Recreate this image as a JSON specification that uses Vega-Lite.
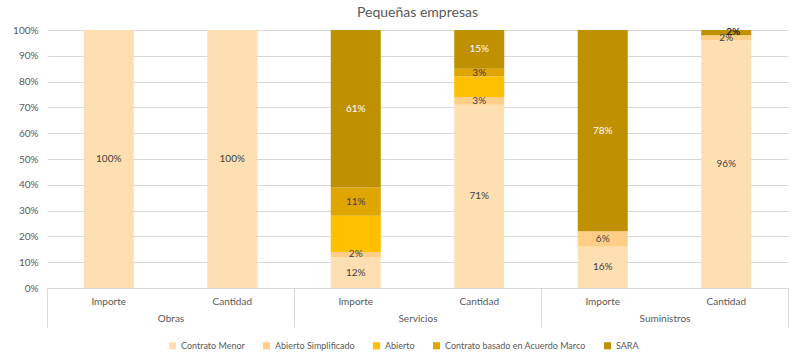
{
  "$schema": "https://vega.github.io/schema/vega-lite/v6.json",
  "width": 741,
  "height": 258,
  "autosize": {"type": "none"},
  "padding": {"left": 47, "top": 30, "right": 6, "bottom": 74},
  "background": "white",
  "config": {
    "font": "Lato",
    "view": {"stroke": null}
  },
  "title": {"text": "Pequeñas empresas", "fontSize": 14, "fontWeight": "normal", "color": "#595959", "offset": 5, "anchor": "middle"},
  "data": {"values": [
    {"grupo": "Obras", "medida": "Importe", "tipo": "Contrato Menor", "v": 1.00},
    {"grupo": "Obras", "medida": "Cantidad", "tipo": "Contrato Menor", "v": 1.00},
    {"grupo": "Servicios", "medida": "Importe", "tipo": "Contrato Menor", "v": 0.12},
    {"grupo": "Servicios", "medida": "Importe", "tipo": "Abierto Simplificado", "v": 0.02},
    {"grupo": "Servicios", "medida": "Importe", "tipo": "Abierto", "v": 0.14},
    {"grupo": "Servicios", "medida": "Importe", "tipo": "Contrato basado en Acuerdo Marco", "v": 0.11},
    {"grupo": "Servicios", "medida": "Importe", "tipo": "SARA", "v": 0.61},
    {"grupo": "Servicios", "medida": "Cantidad", "tipo": "Contrato Menor", "v": 0.71},
    {"grupo": "Servicios", "medida": "Cantidad", "tipo": "Abierto Simplificado", "v": 0.03},
    {"grupo": "Servicios", "medida": "Cantidad", "tipo": "Abierto", "v": 0.08},
    {"grupo": "Servicios", "medida": "Cantidad", "tipo": "Contrato basado en Acuerdo Marco", "v": 0.03},
    {"grupo": "Servicios", "medida": "Cantidad", "tipo": "SARA", "v": 0.15},
    {"grupo": "Suministros", "medida": "Importe", "tipo": "Contrato Menor", "v": 0.16},
    {"grupo": "Suministros", "medida": "Importe", "tipo": "Abierto Simplificado", "v": 0.06},
    {"grupo": "Suministros", "medida": "Importe", "tipo": "SARA", "v": 0.78},
    {"grupo": "Suministros", "medida": "Cantidad", "tipo": "Contrato Menor", "v": 0.96},
    {"grupo": "Suministros", "medida": "Cantidad", "tipo": "Abierto Simplificado", "v": 0.02},
    {"grupo": "Suministros", "medida": "Cantidad", "tipo": "SARA", "v": 0.02}
  ]},
  "transform": [
    {"calculate": "datum.grupo + '|' + datum.medida", "as": "key"},
    {"calculate": "indexof(['Contrato Menor','Abierto Simplificado','Abierto','Contrato basado en Acuerdo Marco','SARA'], datum.tipo)", "as": "k"},
    {"stack": "v", "groupby": ["key"], "sort": [{"field": "k", "order": "ascending"}], "as": ["v0", "v1"]},
    {"calculate": "(datum.v0 + datum.v1) / 2", "as": "mid"}
  ],
  "layer": [
    {
      "layer": [
        {
          "mark": {"type": "bar"},
          "encoding": {
            "x": {
              "field": "key", "type": "nominal", "sort": null,
              "scale": {"paddingInner": 0.595, "paddingOuter": 0.2975},
              "axis": {
                "orient": "bottom", "title": null, "labelAngle": 0, "ticks": false,
                "domainColor": "#d9d9d9", "labelColor": "#595959", "labelFontSize": 10,
                "labelPadding": 8,
                "labelExpr": "split(datum.label, '|')[1]"
              }
            },
            "y": {
              "field": "v0", "type": "quantitative",
              "scale": {"domain": [0, 1]},
              "axis": {
                "title": null, "format": ".0%", "values": [0, 0.1, 0.2, 0.3, 0.4, 0.5, 0.6, 0.7, 0.8, 0.9, 1.0],
                "domain": false, "ticks": false, "gridColor": "#d9d9d9",
                "labelColor": "#595959", "labelFontSize": 10, "labelPadding": 9
              }
            },
            "y2": {"field": "v1"},
            "color": {
              "field": "tipo", "type": "nominal",
              "scale": {
                "domain": ["Contrato Menor", "Abierto Simplificado", "Abierto", "Contrato basado en Acuerdo Marco", "SARA"],
                "range": ["#FEDFB2", "#FFCF88", "#FFC000", "#DFA600", "#BF9000"]
              },
              "legend": {
                "title": null, "orient": "none", "legendX": 121, "legendY": 311, "direction": "horizontal",
                "symbolType": "square", "symbolSize": 50, "symbolStrokeWidth": 0,
                "labelFontSize": 9, "labelColor": "#595959", "columnPadding": 17
              }
            }
          }
        },
        {
          "transform": [{"filter": "datum.v > 0 && datum.tipo != 'Abierto' && !(datum.tipo == 'SARA' && datum.v < 0.1)"}],
          "mark": {"type": "text", "fontSize": 10},
          "encoding": {
            "x": {"field": "key", "type": "nominal", "sort": null},
            "y": {
              "field": "mid", "type": "quantitative",
              "axis": {
                "title": null, "format": ".0%", "values": [0, 0.1, 0.2, 0.3, 0.4, 0.5, 0.6, 0.7, 0.8, 0.9, 1.0],
                "domain": false, "ticks": false, "gridColor": "#d9d9d9",
                "labelColor": "#595959", "labelFontSize": 10, "labelPadding": 9
              }
            },
            "text": {"field": "v", "type": "quantitative", "format": ".0%"},
            "color": {
              "condition": {"test": "datum.tipo == 'SARA' && datum.v > 0.1", "value": "#ffffff"},
              "value": "#404040"
            }
          }
        },
        {
          "transform": [{"filter": "datum.tipo == 'SARA' && datum.v > 0 && datum.v < 0.1"}],
          "mark": {"type": "text", "fontSize": 10, "fontWeight": "bold", "dx": 7, "dy": -1, "color": "#262626"},
          "encoding": {
            "x": {"field": "key", "type": "nominal", "sort": null},
            "y": {
              "field": "mid", "type": "quantitative",
              "axis": {
                "title": null, "format": ".0%", "values": [0, 0.1, 0.2, 0.3, 0.4, 0.5, 0.6, 0.7, 0.8, 0.9, 1.0],
                "domain": false, "ticks": false, "gridColor": "#d9d9d9",
                "labelColor": "#595959", "labelFontSize": 10, "labelPadding": 9
              }
            },
            "text": {"field": "v", "type": "quantitative", "format": ".0%"}
          }
        }
      ]
    },
    {
      "mark": {"type": "rule", "opacity": 0},
      "encoding": {
        "x": {
          "field": "grupo", "type": "nominal", "sort": null,
          "scale": {"paddingInner": 0, "paddingOuter": 0},
          "axis": {
            "orient": "bottom", "title": null, "labelAngle": 0, "domain": false,
            "ticks": true, "tickBand": "extent", "tickSize": 39, "tickColor": "#d9d9d9",
            "labelColor": "#595959", "labelFontSize": 10, "labelPadding": -14, "grid": false
          }
        }
      }
    }
  ],
  "resolve": {"scale": {"x": "independent"}, "axis": {"x": "independent"}}
}
